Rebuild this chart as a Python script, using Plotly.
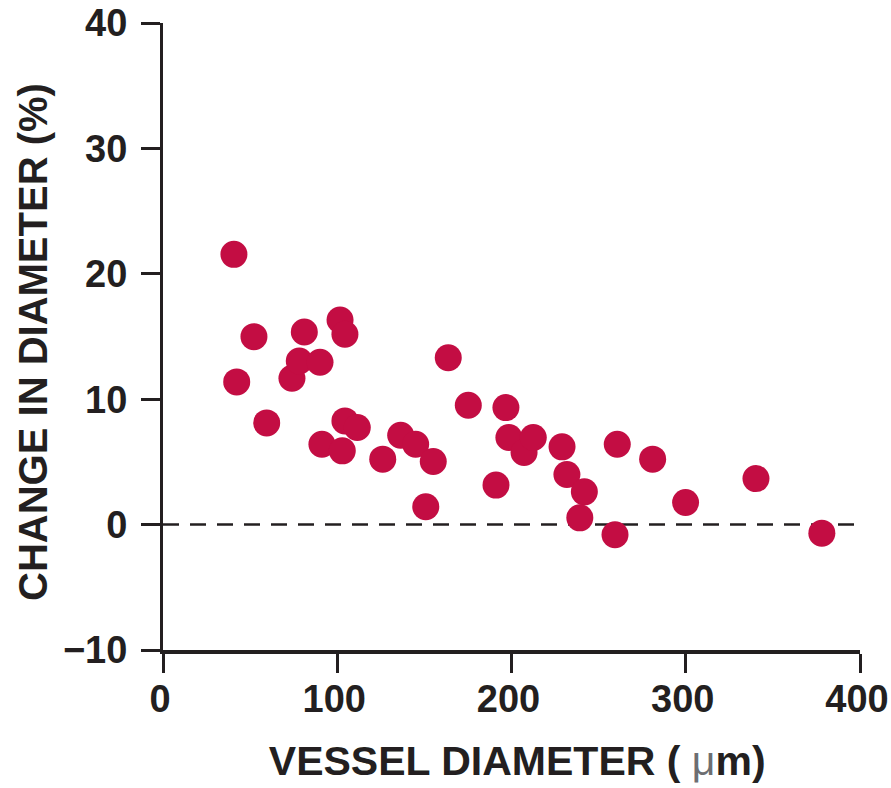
import plotly.graph_objects as go

vessel_diameter = [40.7, 42.3, 52.2, 59.5, 74.0, 78.2, 81.1, 90.1, 91.2, 101.6,
                   104.4, 104.4, 102.9, 111.5, 126.1, 136.4, 145.0, 150.8, 155.1, 163.7,
                   175.2, 191.1, 196.8, 198.5, 207.2, 212.5, 229.0, 231.8, 241.8, 239.2,
                   260.7, 259.4, 281.0, 299.9, 340.3, 378.1]
change_pct = [21.55, 11.38, 14.99, 8.11, 11.67, 13.05, 15.36, 12.95, 6.41, 16.32,
              15.18, 8.27, 5.88, 7.74, 5.22, 7.13, 6.41, 1.42, 5.03, 13.31,
              9.52, 3.15, 9.33, 6.94, 5.75, 6.94, 6.20, 3.99, 2.61, 0.54,
              6.41, -0.81, 5.22, 1.76, 3.67, -0.68]
x_ticks = [0, 100, 200, 300, 400]
y_ticks = [-10, 0, 10, 20, 30, 40]
ref_line_x = [0, 400]
ref_line_y = [0, 0]

ink = "#231f20"
dot = "#c30d43"
font = "Liberation Sans, Arial, sans-serif"

fig = go.Figure()
fig.add_trace(go.Scatter(x=ref_line_x, y=ref_line_y, mode="lines",
                         line=dict(color=ink, width=2.5, dash="16px,11px"),
                         hoverinfo="skip", showlegend=False))
fig.add_trace(go.Scatter(x=vessel_diameter, y=change_pct, mode="markers",
                         marker=dict(color=dot, size=27, line=dict(width=0)),
                         showlegend=False))

fig.update_layout(
    width=891, height=788,
    margin=dict(l=163, r=31, t=23, b=138),
    paper_bgcolor="white", plot_bgcolor="white",
    font=dict(family=font, color=ink),
)
fig.update_xaxes(
    range=[0, 400], tickvals=x_ticks, showgrid=False, zeroline=False,
    automargin=False,
    showline=True, linecolor=ink, linewidth=4,
    ticks="outside", ticklen=19, tickwidth=3, tickcolor=ink,
    tickfont=dict(family=font, size=38, color=ink, weight="bold"),
    ticklabelstandoff=-7, ticklabelshift=-3, ticklabeloverflow="allow",
    title=dict(text='<b>&nbsp;VESSEL DIAMETER ( <span style="color:#6d6e71;font-weight:normal">μ</span>m)</b>',
               font=dict(family=font, size=41, color=ink), standoff=29),
)
fig.update_yaxes(
    range=[-10, 40], tickvals=y_ticks, showgrid=False, zeroline=False,
    automargin=False,
    showline=True, linecolor=ink, linewidth=3,
    ticks="outside", ticklen=19, tickwidth=3, tickcolor=ink,
    tickfont=dict(family=font, size=38, color=ink, weight="bold"),
    ticklabelstandoff=6, ticklabeloverflow="allow",
    title=dict(text="<b>CHANGE IN DIAMETER (%)&nbsp;</b>",
               font=dict(family=font, size=40, color=ink), standoff=3),
)

fig.write_html("out.html", config={"displayModeBar": False},
               post_script="document.body.style.margin='0';document.body.style.overflow='hidden';")
